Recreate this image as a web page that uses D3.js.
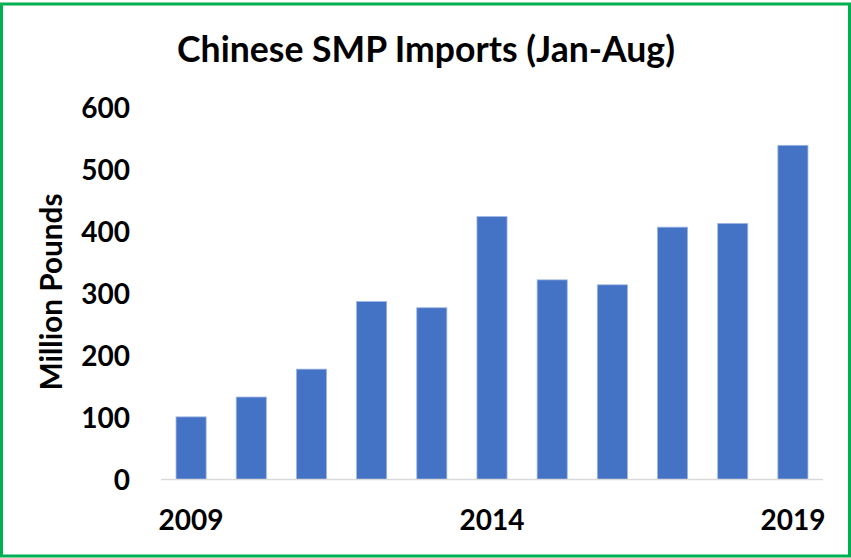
<!DOCTYPE html>
<html lang="en">
<head>
  <meta charset="UTF-8">
  <title>Chinese SMP Imports (Jan-Aug)</title>
  <style>
    body { margin: 0; background: #fff; }
    text { font-family: Lato, "Open Sans", sans-serif; font-weight: 700; fill: #000; }
  </style>
  <script src="https://d3js.org/d3.v7.min.js"></script>
</head>
<body>
<div id="chart"></div>
<script>
  // Data
  var years = ["2009", "2010", "2011", "2012", "2013", "2014", "2015", "2016", "2017", "2018", "2019"];
  var imports = [101, 133, 178, 287, 277, 424, 322, 314, 407, 413, 539];
  var yTicks = [0, 100, 200, 300, 400, 500, 600];
  var xLabels = ["2009", "2014", "2019"];

  var width = 851, height = 558;
  var plot = { left: 161, right: 823, top: 107.5, bottom: 479.5 };

  var svg = d3.select("#chart").append("svg")
    .attr("width", width)
    .attr("height", height);

  // fit a text element to a target width by scaling font size
  function fit(sel, target) {
    var node = sel.node();
    var size = parseFloat(sel.attr("font-size"));
    var w = node.getComputedTextLength();
    sel.attr("font-size", size * target / w);
  }

  var x = d3.scaleBand()
    .domain(years)
    .range([plot.left, plot.right])
    .paddingInner(0.5)
    .paddingOuter(0.25);

  var y = d3.scaleLinear()
    .domain([0, 600])
    .range([plot.bottom, plot.top]);

  // bars
  svg.append("g")
    .selectAll("rect")
    .data(imports)
    .enter().append("rect")
    .attr("x", (d, i) => x(years[i]))
    .attr("y", d => y(d))
    .attr("width", x.bandwidth())
    .attr("height", d => y(0) - y(d))
    .attr("fill", "#4472C4")
    .attr("stroke", "#9fb6e2")
    .attr("stroke-width", 0.8);

  // baseline
  svg.append("line")
    .attr("x1", plot.left).attr("x2", plot.right)
    .attr("y1", y(0)).attr("y2", y(0))
    .attr("stroke", "#D9D9D9")
    .attr("stroke-width", 1.5);

  // y axis labels
  var yAxis = d3.axisLeft(y).tickValues(yTicks).tickSize(0).tickPadding(0);
  var gy = svg.append("g")
    .attr("transform", "translate(130,0)")
    .call(yAxis);
  gy.select(".domain").remove();
  gy.selectAll("text")
    .attr("font-size", 28)
    .attr("font-family", null)
    .attr("dy", "0.36em");

  // x axis labels
  var xAxis = d3.axisBottom(x).tickValues(xLabels).tickSize(0).tickPadding(0);
  var gx = svg.append("g")
    .attr("transform", "translate(0,530)")
    .call(xAxis);
  gx.select(".domain").remove();
  gx.selectAll("text")
    .attr("font-size", 28)
    .attr("font-family", null)
    .attr("dy", 0);

  // title
  var title = svg.append("text")
    .attr("x", 426)
    .attr("y", 62)
    .attr("text-anchor", "middle")
    .attr("font-size", 32)
    .text("Chinese SMP Imports (Jan-Aug)");
  fit(title, 498);

  // y axis title
  var yTitle = svg.append("text")
    .attr("transform", "translate(62,292) rotate(-90)")
    .attr("text-anchor", "middle")
    .attr("font-size", 24)
    .text("Million Pounds");
  fit(yTitle, 197);

  // green frame
  svg.append("rect")
    .attr("x", 1.5).attr("y", 4)
    .attr("width", width - 3).attr("height", height - 6)
    .attr("fill", "none")
    .attr("stroke", "#00B050")
    .attr("stroke-width", 3);
</script>
</body>
</html>
